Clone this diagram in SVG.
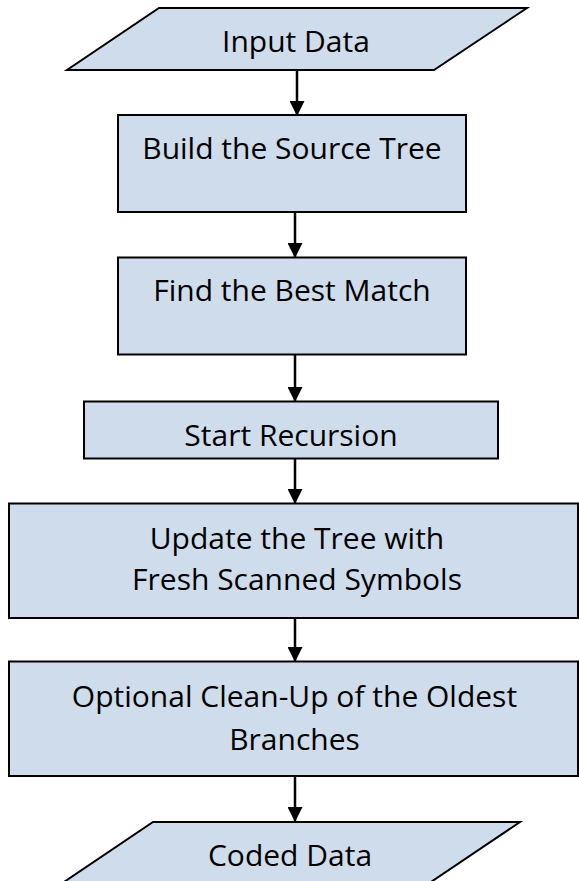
<svg xmlns="http://www.w3.org/2000/svg" width="579" height="881" viewBox="0 0 579 881">
  <style>
    .shape { fill: #cfdcec; stroke: #000; stroke-width: 2; }
    .label { font-family: "Open Sans", "Liberation Sans", sans-serif; font-size: 30px; fill: #000; text-anchor: middle; }
    .flow { stroke: #000; stroke-width: 2.5; fill: none; marker-end: url(#head); }
  </style>
  <defs>
    <marker id="head" markerWidth="6" markerHeight="6" refX="5.6" refY="3" orient="auto" markerUnits="strokeWidth">
      <path d="M0,0 L6,3 L0,6 Z" fill="#000"/>
    </marker>
  </defs>

  <g id="connectors">
    <line class="flow" x1="297" y1="70" x2="297" y2="115"/>
    <line class="flow" x1="295" y1="212" x2="295" y2="257"/>
    <line class="flow" x1="295" y1="355" x2="295" y2="401"/>
    <line class="flow" x1="295" y1="459" x2="295" y2="503"/>
    <line class="flow" x1="295" y1="618" x2="295" y2="661"/>
    <line class="flow" x1="295" y1="776" x2="295" y2="821"/>
  </g>

  <g id="input-data">
    <polygon class="shape" points="159,8 527,8 434,70 67,70"/>
    <text class="label" x="296" y="52">Input Data</text>
  </g>

  <g id="build-source-tree">
    <rect class="shape" x="118" y="115" width="348" height="97"/>
    <text class="label" x="292" y="159">Build the Source Tree</text>
  </g>

  <g id="find-best-match">
    <rect class="shape" x="118" y="257.5" width="348" height="97"/>
    <text class="label" x="292" y="301">Find the Best Match</text>
  </g>

  <g id="start-recursion">
    <rect class="shape" x="84" y="401.5" width="414" height="57"/>
    <text class="label" x="291" y="446">Start Recursion</text>
  </g>

  <g id="update-tree">
    <rect class="shape" x="9" y="503.5" width="569" height="114.5"/>
    <text class="label" x="297" y="549">Update the Tree with</text>
    <text class="label" x="297" y="590">Fresh Scanned Symbols</text>
  </g>

  <g id="clean-up">
    <rect class="shape" x="9" y="661.5" width="569" height="114.5"/>
    <text class="label" x="294.5" y="707">Optional Clean-Up of the Oldest</text>
    <text class="label" x="294.5" y="750">Branches</text>
  </g>

  <g id="coded-data">
    <polygon class="shape" points="153,822 520,822 428,884 61,884"/>
    <text class="label" x="290" y="866">Coded Data</text>
  </g>
</svg>
